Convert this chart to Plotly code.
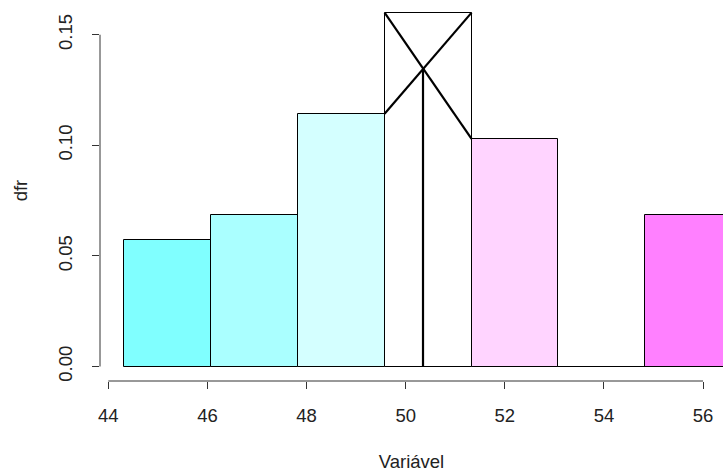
import plotly.graph_objects as go

# Histogram data
breaks = [44.31, 46.065, 47.82, 49.575, 51.33, 53.08, 54.835, 56.59]
densities = [0.0571, 0.0686, 0.1143, 0.1600, 0.1029, 0.0, 0.0686]
bar_colors = ["#80FFFF", "#AAFFFF", "#D4FFFF", "#FFFFFF", "#FFD4FF", "#FFAAFF", "#FF80FF"]
modal_class = 3          # index of the modal bin
mode_x = 50.35           # interpolated mode (intersection of the X)
mode_y = 0.1346

x_ticks = [44, 46, 48, 50, 52, 54, 56]
y_ticks = [0.00, 0.05, 0.10, 0.15]
y_tick_text = ["0.00", "0.05", "0.10", "0.15"]

centers = [(a + b) / 2 for a, b in zip(breaks[:-1], breaks[1:])]
widths = [b - a for a, b in zip(breaks[:-1], breaks[1:])]

FONT = "Liberation Sans, Arial, sans-serif"
FS = 18.5
TXT = "#222222"

fig = go.Figure()
fig.add_trace(go.Bar(
    x=centers, y=densities, width=widths,
    marker=dict(color=bar_colors, line=dict(color="black", width=1)),
    showlegend=False, hoverinfo="skip",
))

# zero-height bins drawn as a flat line (as R does)
for i, d in enumerate(densities):
    if d == 0:
        fig.add_trace(go.Scatter(x=[breaks[i], breaks[i + 1]], y=[d, d], mode="lines",
                                 line=dict(color="black", width=1),
                                 showlegend=False, hoverinfo="skip"))

# Czuber mode construction: the X inside the modal bar and the vertical line
k = modal_class
for xs, ys in [([breaks[k], breaks[k + 1]], [densities[k - 1], densities[k]]),
               ([breaks[k], breaks[k + 1]], [densities[k], densities[k + 1]]),
               ([mode_x, mode_x], [0, mode_y])]:
    fig.add_trace(go.Scatter(x=xs, y=ys, mode="lines",
                             line=dict(color="black", width=2.2),
                             showlegend=False, hoverinfo="skip"))

# R-style detached axis lines spanning first to last tick
fig.add_shape(type="line", xref="x", yref="paper", x0=x_ticks[0], x1=x_ticks[-1], y0=0, y1=0,
              line=dict(color="#333333", width=1))
fig.add_shape(type="line", xref="paper", yref="y", x0=0, x1=0, y0=y_ticks[0], y1=y_ticks[-1],
              line=dict(color="#333333", width=1))

fig.update_layout(
    width=723, height=472,
    margin=dict(l=100, r=0, t=0, b=91),
    plot_bgcolor="white", paper_bgcolor="white",
    font=dict(family=FONT, size=FS, color=TXT),
    bargap=0,
    hovermode=False,
    xaxis=dict(
        range=[43.8325, 56.403], tickvals=x_ticks, ticktext=[str(v) for v in x_ticks],
        ticks="outside", ticklen=7, tickwidth=1, tickcolor="#333333",
        ticklabelstandoff=11,
        showline=False, showgrid=False, zeroline=False,
        tickfont=dict(family=FONT, size=FS, color=TXT),
        title=dict(text="Variável", standoff=31, font=dict(family=FONT, size=FS, color=TXT)),
        automargin=False,
    ),
    yaxis=dict(
        range=[-0.00655, 0.1657], tickvals=y_ticks, ticktext=y_tick_text, tickangle=-90,
        ticks="outside", ticklen=7, tickwidth=1, tickcolor="#333333",
        ticklabelstandoff=13,
        showline=False, showgrid=False, zeroline=False,
        tickfont=dict(family=FONT, size=FS, color=TXT),
        title=dict(text="dfr", standoff=22, font=dict(family=FONT, size=FS, color=TXT)),
        automargin=False,
    ),
)

# remove the default page margin so the figure fills the window exactly
fig.write_html(
    "out.html",
    config={"displayModeBar": False},
    post_script="document.body.style.margin='0';"
                "document.body.style.overflow='hidden';"
                "document.documentElement.style.overflow='hidden';",
)
